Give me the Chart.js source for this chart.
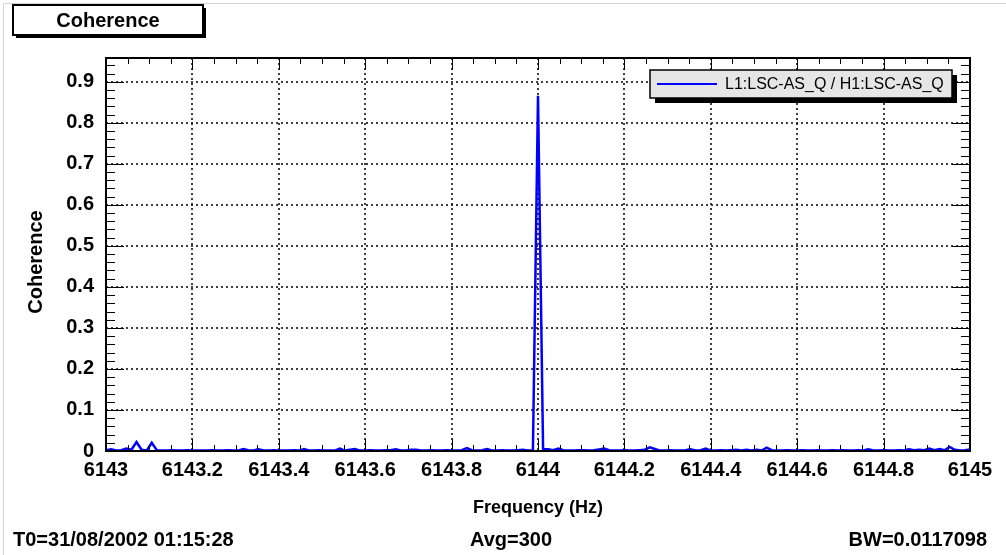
<!DOCTYPE html>
<html>
<head>
<meta charset="utf-8">
<script src="https://cdn.jsdelivr.net/npm/chart.js@4.4.0/dist/chart.umd.min.js"></script>
<style>
    html, body { margin: 0; padding: 0; background: #fff; }
    #caixa { width: 1006px; height: 555px; position: relative; }
</style>
</head>
<body>
<div id="caixa"><canvas id="grafico-coerencia"></canvas></div>
<script>
// Coherence L1 / H1 - espectro em torno de 6144 Hz

const freqInicio = 6143;
const larguraBin = 2 / 170;   // espaçamento dos bins (Hz)

// valores de coerência, um por bin
const coerencia = [
    0.002, 0.004, 0.001, 0.002, 0.006, 0.003, 0.022, 0.003, 0.001, 0.020,
    0.002, 0.001, 0.001, 0.002, 0.001, 0.001, 0.002, 0.001, 0.001, 0.001,
    0.001, 0.002, 0.001, 0.001, 0.002, 0.001, 0.001, 0.005, 0.002, 0.001,
    0.004, 0.001, 0.001, 0.002, 0.001, 0.001, 0.001, 0.002, 0.001, 0.005,
    0.001, 0.001, 0.002, 0.001, 0.001, 0.001, 0.006, 0.001, 0.003, 0.005,
    0.001, 0.001, 0.002, 0.001, 0.001, 0.002, 0.002, 0.004, 0.001, 0.001,
    0.003, 0.003, 0.001, 0.001, 0.002, 0.001, 0.001, 0.002, 0.001, 0.001,
    0.002, 0.007, 0.002, 0.001, 0.002, 0.005, 0.001, 0.001, 0.002, 0.001,
    0.001, 0.002, 0.003, 0.001, 0.002, 0.866, 0.005, 0.004, 0.002, 0.006,
    0.002, 0.001, 0.001, 0.002, 0.002, 0.001, 0.002, 0.004, 0.006, 0.002,
    0.001, 0.001, 0.002, 0.001, 0.001, 0.002, 0.003, 0.009, 0.005, 0.001,
    0.001, 0.002, 0.001, 0.001, 0.002, 0.004, 0.001, 0.002, 0.006, 0.001,
    0.001, 0.002, 0.001, 0.002, 0.003, 0.001, 0.003, 0.001, 0.003, 0.001,
    0.008, 0.002, 0.001, 0.001, 0.002, 0.001, 0.001, 0.002, 0.001, 0.001,
    0.002, 0.001, 0.001, 0.002, 0.001, 0.002, 0.001, 0.001, 0.002, 0.001,
    0.004, 0.001, 0.001, 0.002, 0.001, 0.001, 0.002, 0.001, 0.004, 0.002,
    0.003, 0.002, 0.006, 0.002, 0.005, 0.002, 0.010, 0.003, 0.001, 0.002,
    0.004
];
const frequencias = coerencia.map((_, i) => freqInicio + i * larguraBin);

const xTickLabels = ['6143', '6143.2', '6143.4', '6143.6', '6143.8', '6144',
                     '6144.2', '6144.4', '6144.6', '6144.8', '6145'];
const yTickLabels = ['0', '0.1', '0.2', '0.3', '0.4', '0.5', '0.6', '0.7', '0.8', '0.9'];

const xMin = 6143, xMax = 6145;
const yMin = 0, yMax = 0.958;

const tituloGrafico = 'Coherence';
const legendaSerie = 'L1:LSC-AS_Q / H1:LSC-AS_Q';
const tituloX = 'Frequency (Hz)';
const tituloY = 'Coherence';
const rodape = ['T0=31/08/2002 01:15:28', 'Avg=300', 'BW=0.0117098'];

const FONTE = '"Liberation Sans", Arial, Helvetica, sans-serif';
const AZUL = '#0000ff';

// desenha moldura, grade pontilhada, marcas, título, legenda e textos no estilo ROOT
const decoracaoRoot = {
    id: 'decoracaoRoot',
    beforeDraw(chart) {
        const c = chart.ctx;
        c.save();
        c.fillStyle = '#fff';
        c.fillRect(0, 0, chart.width, chart.height);
        c.strokeStyle = '#d4d4d4';
        c.lineWidth = 1;
        c.beginPath();
        c.moveTo(3.5, 3.5); c.lineTo(3.5, chart.height);
        c.moveTo(3.5, 3.5); c.lineTo(chart.width, 3.5);
        c.stroke();
        c.restore();
    },
    beforeDatasetsDraw(chart) {
        const c = chart.ctx;
        const a = chart.chartArea;
        const sx = chart.scales.x, sy = chart.scales.y;
        c.save();
        c.strokeStyle = '#000';
        c.lineWidth = 1.5;
        c.setLineDash([2, 3]);
        c.beginPath();
        xTickLabels.forEach(t => {
            const px = Math.round(sx.getPixelForValue(parseFloat(t)));
            if (px > a.left + 2 && px < a.right - 2) {
                c.moveTo(px, a.top); c.lineTo(px, a.bottom);
            }
        });
        yTickLabels.forEach(t => {
            const py = Math.round(sy.getPixelForValue(parseFloat(t)));
            if (py > a.top + 2 && py < a.bottom - 2) {
                c.moveTo(a.left, py); c.lineTo(a.right, py);
            }
        });
        c.stroke();
        c.restore();
    },
    afterDatasetsDraw(chart) {
        const c = chart.ctx;
        const a = chart.chartArea;
        const sx = chart.scales.x, sy = chart.scales.y;
        c.save();

        // marcas (para dentro), nos quatro lados
        c.strokeStyle = '#000';
        c.lineWidth = 1;
        c.beginPath();
        for (let k = 0; k <= 40; k++) {
            const v = xMin + k * 0.05;
            const px = Math.round(sx.getPixelForValue(v)) + 0.5;
            const len = (k % 4 === 0) ? 12 : 6;
            c.moveTo(px, a.bottom); c.lineTo(px, a.bottom - len);
            c.moveTo(px, a.top); c.lineTo(px, a.top + len);
        }
        for (let k = 0; k * 0.02 <= yMax + 1e-9; k++) {
            const v = k * 0.02;
            const py = Math.round(sy.getPixelForValue(v)) + 0.5;
            const len = (k % 5 === 0) ? 18 : 9;
            c.moveTo(a.left, py); c.lineTo(a.left + len, py);
            c.moveTo(a.right, py); c.lineTo(a.right - len, py);
        }
        c.stroke();

        // moldura
        c.lineWidth = 2;
        c.strokeRect(a.left, a.top, a.right - a.left, a.bottom - a.top);

        // caixa do título com sombra
        c.fillStyle = '#000';
        c.fillRect(16, 8, 190, 30);
        c.fillStyle = '#fff';
        c.fillRect(13, 5, 190, 30);
        c.lineWidth = 2;
        c.strokeRect(13, 5, 190, 30);
        c.fillStyle = '#000';
        c.font = 'bold 20px ' + FONTE;
        c.textAlign = 'center';
        c.textBaseline = 'middle';
        c.fillText(tituloGrafico, 108, 21);

        // legenda com sombra
        c.fillStyle = '#000';
        c.fillRect(655, 75, 302, 28);
        c.fillStyle = '#e6e6e6';
        c.fillRect(650, 70, 302, 28);
        c.lineWidth = 1.5;
        c.strokeRect(650, 70, 302, 28);
        c.strokeStyle = AZUL;
        c.lineWidth = 2;
        c.beginPath();
        c.moveTo(657, 84); c.lineTo(717, 84);
        c.stroke();
        c.fillStyle = '#000';
        c.font = '16px ' + FONTE;
        c.textAlign = 'left';
        c.fillText(legendaSerie, 725, 85);

        // títulos dos eixos
        c.font = 'bold 18px ' + FONTE;
        c.textAlign = 'center';
        c.fillText(tituloX, (a.left + a.right) / 2, 508);
        c.font = 'bold 20px ' + FONTE;
        c.save();
        c.translate(36, 262);
        c.rotate(-Math.PI / 2);
        c.fillText(tituloY, 0, 0);
        c.restore();

        // rodapé
        c.font = 'bold 20px ' + FONTE;
        c.textAlign = 'left';
        c.fillText(rodape[0], 13, 540);
        c.fillText(rodape[1], 470, 540);
        c.textAlign = 'right';
        c.fillText(rodape[2], 987, 540);

        c.restore();
    }
};

function criarGraficoCoerencia() {
    const ctx = document.getElementById('grafico-coerencia');
    if (!ctx) return;

    new Chart(ctx.getContext('2d'), {
        type: 'line',
        data: {
            datasets: [{
                label: legendaSerie,
                data: frequencias.map((f, i) => ({ x: f, y: coerencia[i] })),
                borderColor: AZUL,
                borderWidth: 2.5,
                pointRadius: 0,
                tension: 0,
                fill: false
            }]
        },
        options: {
            responsive: true,
            maintainAspectRatio: false,
            devicePixelRatio: 1,
            animation: false,
            layout: {
                padding: { top: 58, right: 36, left: 0, bottom: 0 }
            },
            plugins: {
                legend: { display: false },
                title: { display: false },
                tooltip: { enabled: false }
            },
            scales: {
                x: {
                    type: 'linear',
                    min: xMin,
                    max: xMax,
                    afterBuildTicks: s => { s.ticks = xTickLabels.map(t => ({ value: parseFloat(t) })); },
                    afterFit: s => { s.height = 555 - 451; },
                    grid: { display: false, drawTicks: false },
                    border: { display: false },
                    ticks: {
                        autoSkip: false,
                        maxRotation: 0,
                        padding: 7,
                        color: '#000',
                        font: { family: FONTE, size: 20, weight: 'bold' },
                        callback: (v, i) => xTickLabels[i]
                    }
                },
                y: {
                    type: 'linear',
                    min: yMin,
                    max: yMax,
                    afterBuildTicks: s => { s.ticks = yTickLabels.map(t => ({ value: parseFloat(t) })); },
                    afterFit: s => { s.width = 106; },
                    grid: { display: false, drawTicks: false },
                    border: { display: false },
                    ticks: {
                        autoSkip: false,
                        padding: 12,
                        color: '#000',
                        font: { family: FONTE, size: 20, weight: 'bold' },
                        callback: (v, i) => yTickLabels[i]
                    }
                }
            }
        },
        plugins: [decoracaoRoot]
    });
}

criarGraficoCoerencia();
</script>
</body>
</html>
